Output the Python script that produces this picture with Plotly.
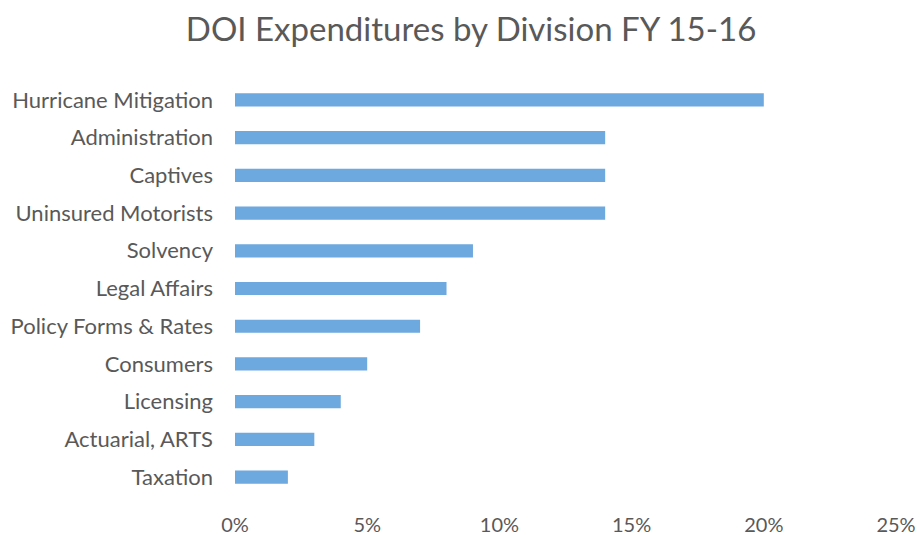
import plotly.graph_objects as go

categories = ["Hurricane Mitigation", "Administration", "Captives", "Uninsured Motorists",
              "Solvency", "Legal Affairs", "Policy Forms & Rates", "Consumers",
              "Licensing", "Actuarial, ARTS", "Taxation"]
values = [0.20, 0.14, 0.14, 0.14, 0.09, 0.08, 0.07, 0.05, 0.04, 0.03, 0.02]
tick_vals = [0, 0.05, 0.10, 0.15, 0.20, 0.25]
tick_text = ["0%", "5%", "10%", "15%", "20%", "25%"]

fig = go.Figure(go.Bar(
    x=values, y=categories, orientation="h",
    marker=dict(color="#6DA8DF", line=dict(width=0)),
))

fig.update_layout(
    width=920, height=535,
    paper_bgcolor="white", plot_bgcolor="white",
    margin=dict(l=235, r=24, t=81, b=39),
    bargap=0.65,
    showlegend=False,
    font=dict(family="Lato, Open Sans, sans-serif", color="#595959", size=22),
    title=dict(text="DOI Expenditures by Division FY 15-16", x=0.512, xanchor="center",
               y=0.945, yanchor="middle",
               font=dict(size=33, color="#595959")),
    xaxis=dict(range=[0, 0.25], tickvals=tick_vals, ticktext=tick_text,
               showgrid=False, zeroline=False, showline=False, automargin=False,
               ticks="outside", ticklen=0, ticklabelstandoff=11,
               ticklabeloverflow="allow", tickfont=dict(size=20)),
    yaxis=dict(autorange="reversed", showgrid=False, zeroline=False, showline=False,
               automargin=False, ticklabelstandoff=21, tickfont=dict(size=22)),
)

fig.write_html("out.html", config={"displayModeBar": False},
               post_script="document.body.style.margin='0';document.body.style.overflow='hidden';")
